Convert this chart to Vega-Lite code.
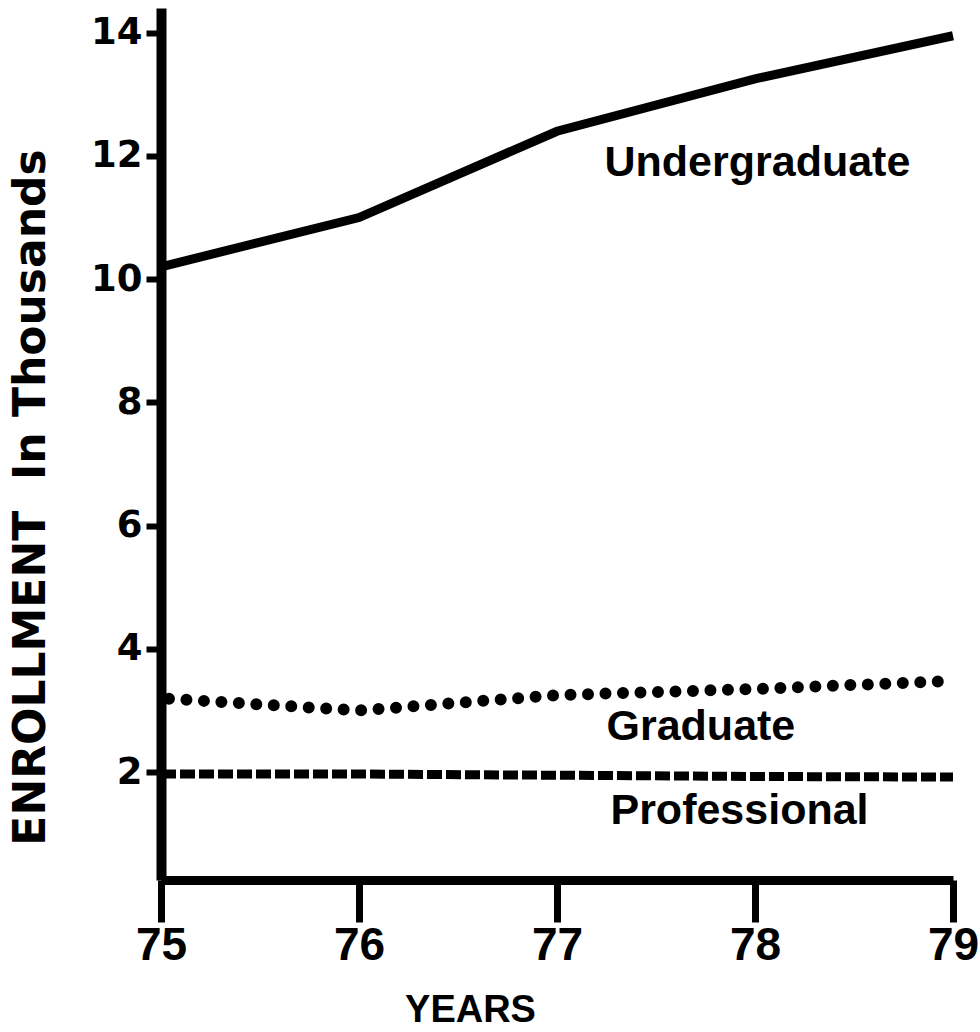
{
  "$schema": "https://vega.github.io/schema/vega-lite/v6.json",
  "autosize": {"type": "none"},
  "width": 792,
  "height": 872,
  "padding": {"left": 161, "top": 8, "right": 27, "bottom": 152},
  "background": "white",
  "config": {"view": {"stroke": null}},
  "datasets": {
    "enrollment": [
      {"year": 75, "series": "Undergraduate", "value": 10.2},
      {"year": 76, "series": "Undergraduate", "value": 11.0},
      {"year": 77, "series": "Undergraduate", "value": 12.4},
      {"year": 78, "series": "Undergraduate", "value": 13.25},
      {"year": 79, "series": "Undergraduate", "value": 13.95},
      {"year": 75, "series": "Graduate", "value": 3.2},
      {"year": 76, "series": "Graduate", "value": 3.0},
      {"year": 77, "series": "Graduate", "value": 3.25},
      {"year": 78, "series": "Graduate", "value": 3.35},
      {"year": 79, "series": "Graduate", "value": 3.48},
      {"year": 75, "series": "Professional", "value": 1.97},
      {"year": 76, "series": "Professional", "value": 1.97},
      {"year": 77, "series": "Professional", "value": 1.95},
      {"year": 78, "series": "Professional", "value": 1.93},
      {"year": 79, "series": "Professional", "value": 1.92}
    ],
    "labels": [
      {"label": "Undergraduate", "series": "Undergraduate"},
      {"label": "Graduate", "series": "Graduate"},
      {"label": "Professional", "series": "Professional"}
    ]
  },
  "resolve": {"scale": {"x": "shared", "y": "shared"}},
  "layer": [
    {
      "data": {"name": "enrollment"},
      "transform": [{"filter": "datum.series === 'Undergraduate'"}],
      "mark": {"type": "line", "color": "black", "strokeWidth": 9, "strokeJoin": "miter"},
      "encoding": {
        "x": {
          "field": "year", "type": "quantitative",
          "scale": {"domain": [75, 79], "nice": false, "zero": false},
          "axis": {
            "values": [75, 76, 77, 78, 79], "format": "d", "grid": false,
            "domainColor": "black", "domainWidth": 9,
            "tickColor": "black", "tickWidth": 7, "tickSize": 42,
            "labelFont": "Liberation Sans", "labelFontWeight": "bold", "labelFontSize": 46,
            "labelColor": "black", "labelPadding": 1, "labelFlush": false,
            "title": "YEARS", "titleFont": "Liberation Sans", "titleFontWeight": "bold",
            "titleFontSize": 38, "titleColor": "black",
            "titleX": 309, "titleY": 130, "titleBaseline": "middle"
          }
        },
        "y": {
          "field": "value", "type": "quantitative",
          "scale": {"domain": [0.25, 14.4], "nice": false, "zero": false},
          "axis": {
            "values": [2, 4, 6, 8, 10, 12, 14], "format": "d", "grid": false,
            "domainColor": "black", "domainWidth": 10,
            "tickColor": "black", "tickWidth": 6, "tickSize": 15,
            "labelFont": "DejaVu Sans", "labelFontWeight": "bold", "labelFontSize": 37,
            "labelColor": "black", "labelPadding": 4, "labelFlush": false,
            "title": "ENROLLMENT\u00a0 In Thousands", "titleFont": "DejaVu Sans", "titleFontWeight": "bold",
            "titleFontSize": 44, "titleColor": "black", "titleAngle": -90,
            "titleX": -130, "titleY": 489, "titleAlign": "center", "titleBaseline": "middle"
          }
        }
      }
    },
    {
      "data": {"name": "enrollment"},
      "transform": [{"filter": "datum.series === 'Graduate'"}],
      "mark": {"type": "line", "color": "black", "strokeWidth": 12, "strokeCap": "round", "strokeDash": [0, 17.5], "strokeDashOffset": -8},
      "encoding": {
        "x": {"field": "year", "type": "quantitative"},
        "y": {"field": "value", "type": "quantitative"}
      }
    },
    {
      "data": {"name": "enrollment"},
      "transform": [{"filter": "datum.series === 'Professional'"}],
      "mark": {"type": "line", "color": "black", "strokeWidth": 9, "strokeDash": [15, 4]},
      "encoding": {
        "x": {"field": "year", "type": "quantitative"},
        "y": {"field": "value", "type": "quantitative"}
      }
    },
    {
      "data": {"name": "labels"},
      "transform": [{"filter": "datum.series === 'Undergraduate'"}],
      "mark": {"type": "text", "align": "left", "baseline": "middle", "font": "Liberation Sans", "fontWeight": "bold", "fontSize": 43, "color": "black"},
      "encoding": {
        "x": {"datum": 77.24, "type": "quantitative"},
        "y": {"datum": 11.88, "type": "quantitative"},
        "text": {"field": "label", "type": "nominal"}
      }
    },
    {
      "data": {"name": "labels"},
      "transform": [{"filter": "datum.series === 'Graduate'"}],
      "mark": {"type": "text", "align": "left", "baseline": "middle", "font": "Liberation Sans", "fontWeight": "bold", "fontSize": 43, "color": "black"},
      "encoding": {
        "x": {"datum": 77.25, "type": "quantitative"},
        "y": {"datum": 2.73, "type": "quantitative"},
        "text": {"field": "label", "type": "nominal"}
      }
    },
    {
      "data": {"name": "labels"},
      "transform": [{"filter": "datum.series === 'Professional'"}],
      "mark": {"type": "text", "align": "left", "baseline": "middle", "font": "Liberation Sans", "fontWeight": "bold", "fontSize": 43, "color": "black"},
      "encoding": {
        "x": {"datum": 77.27, "type": "quantitative"},
        "y": {"datum": 1.37, "type": "quantitative"},
        "text": {"field": "label", "type": "nominal"}
      }
    }
  ]
}
